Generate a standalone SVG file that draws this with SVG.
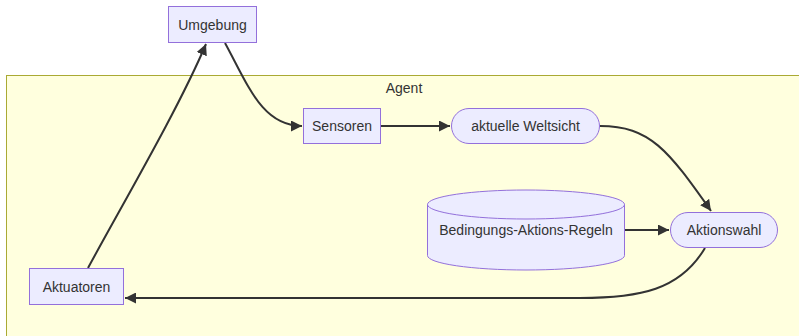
<svg xmlns="http://www.w3.org/2000/svg" width="799" height="336" viewBox="0 0 799 336">
<style>
.node{fill:#ECECFF;stroke:#9370DB;stroke-width:1}
.lbl{font-family:"Liberation Sans",Arial,sans-serif;font-size:14px;fill:#333;text-anchor:middle;dominant-baseline:central}
.edge{fill:none;stroke:#333;stroke-width:2}
.cluster{fill:#ffffde;stroke:#aaaa33;stroke-width:1}
</style>
<defs>
<marker id="arrow" viewBox="0 0 10 10" refX="10" refY="5" markerUnits="userSpaceOnUse" markerWidth="11" markerHeight="11" orient="auto">
<path d="M0,0 L10,5 L0,10 z" fill="#333"/>
</marker>
</defs>
<rect width="799" height="336" fill="#ffffff"/>
<g id="cluster-agent">
<rect class="cluster" x="6.5" y="75.5" width="800" height="270"/>
<text class="lbl" x="404" y="88">Agent</text>
</g>
<g id="connectors">
<path class="edge" d="M225,43 C248,85 262,126 302,126" marker-end="url(#arrow)"/>
<path class="edge" d="M88,268 C122,205 178,110 206,44" marker-end="url(#arrow)"/>
<path class="edge" d="M381,126 L450,126" marker-end="url(#arrow)"/>
<path class="edge" d="M600,126 C650,126 668,150 711,211" marker-end="url(#arrow)"/>
<path class="edge" d="M624,230 L669,230" marker-end="url(#arrow)"/>
<path class="edge" d="M705,248 C680,290 640,298 580,298 L125,298" marker-end="url(#arrow)"/>
</g>
<g id="node-umgebung">
<rect class="node" x="168.5" y="6.5" width="88" height="36"/>
<text class="lbl" x="212.5" y="24.5">Umgebung</text>
</g>
<g id="node-sensoren">
<rect class="node" x="303.5" y="108.5" width="77" height="35"/>
<text class="lbl" x="342" y="126">Sensoren</text>
</g>
<g id="node-weltsicht">
<rect class="node" x="451.5" y="108.5" width="148" height="35" rx="17.5" ry="17.5"/>
<text class="lbl" x="525.5" y="126">aktuelle Weltsicht</text>
</g>
<g id="node-regeln">
<path class="node" d="M427.5,204.5 a98.5,14.5 0 0 0 197,0 a98.5,14.5 0 0 0 -197,0 l0,51 a98.5,14.5 0 0 0 197,0 l0,-51"/>
<text class="lbl" x="526" y="230">Bedingungs-Aktions-Regeln</text>
</g>
<g id="node-aktionswahl">
<rect class="node" x="670.5" y="212.5" width="107" height="35" rx="17.5" ry="17.5"/>
<text class="lbl" x="724" y="230">Aktionswahl</text>
</g>
<g id="node-aktuatoren">
<rect class="node" x="29.5" y="268.5" width="94" height="36"/>
<text class="lbl" x="76.5" y="286.5">Aktuatoren</text>
</g>
</svg>
